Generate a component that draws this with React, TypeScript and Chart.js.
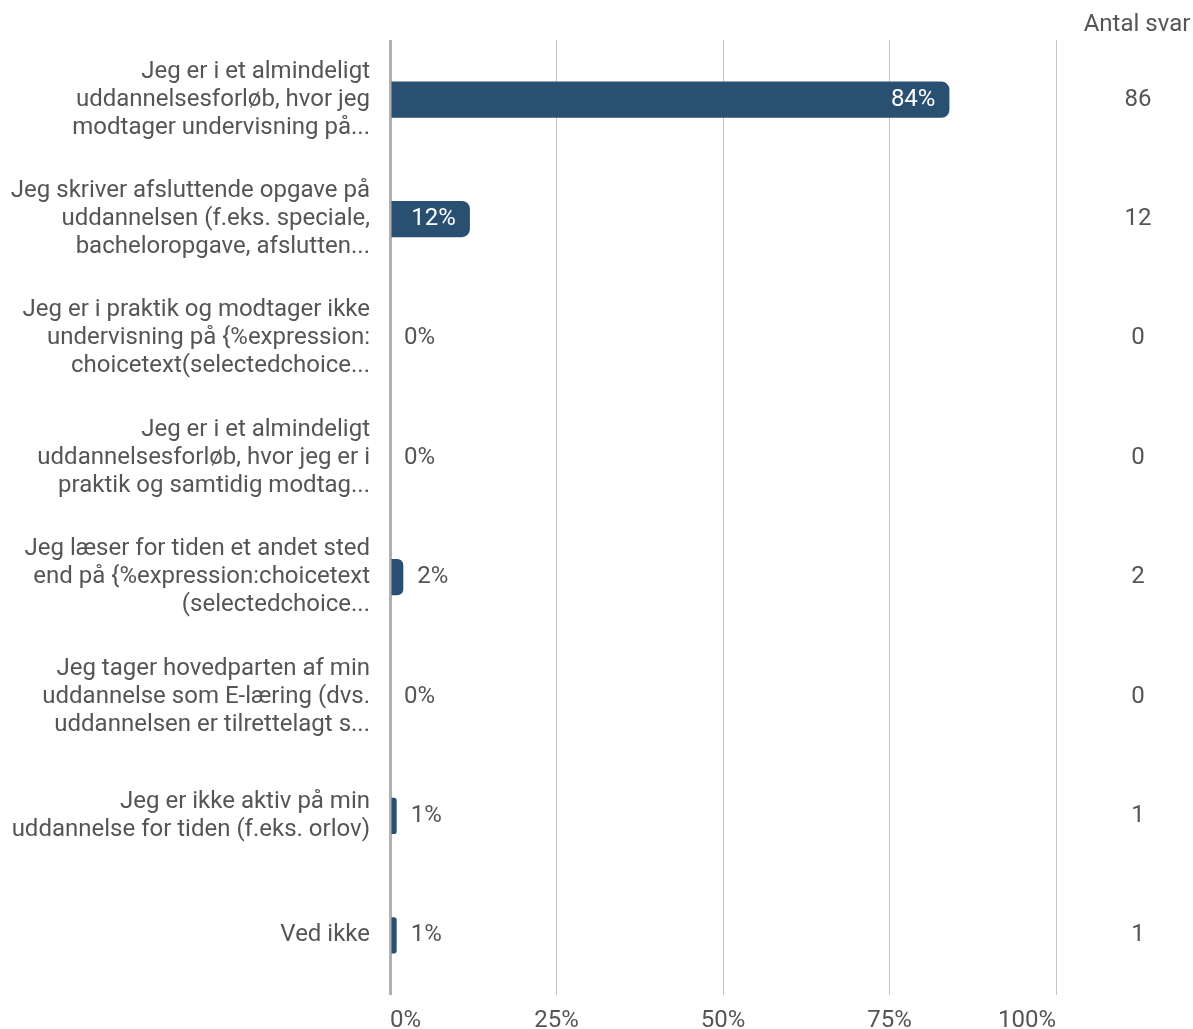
import React, { useEffect, useRef } from "react";
import { Chart, registerables } from "chart.js";

Chart.register(...registerables);

const categories: string[][] = [
  ["Jeg er i et almindeligt", "uddannelsesforløb, hvor jeg", "modtager undervisning på..."],
  ["Jeg skriver afsluttende opgave på", "uddannelsen (f.eks. speciale,", "bacheloropgave, afslutten..."],
  ["Jeg er i praktik og modtager ikke", "undervisning på {%expression:", "choicetext(selectedchoice..."],
  ["Jeg er i et almindeligt", "uddannelsesforløb, hvor jeg er i", "praktik og samtidig modtag..."],
  ["Jeg læser for tiden et andet sted", "end på {%expression:choicetext", "(selectedchoice..."],
  ["Jeg tager hovedparten af min", "uddannelse som E-læring (dvs.", "uddannelsen er tilrettelagt s..."],
  ["Jeg er ikke aktiv på min", "uddannelse for tiden (f.eks. orlov)"],
  ["Ved ikke"],
];
const percentValues: number[] = [84, 12, 0, 0, 2, 0, 1, 1];
const countValues: number[] = [86, 12, 0, 0, 2, 0, 1, 1];
const xTickValues: number[] = [0, 25, 50, 75, 100];
const countHeader = "Antal svar";

const FONT = "Roboto, 'Noto Sans', sans-serif";
const TEXT = "#555555";
const BAR = "#2a5071";

const labelPlugin = {
  id: "valueLabels",
  afterDatasetsDraw(chart: any) {
    const ctx = chart.ctx;
    const meta = chart.getDatasetMeta(0);
    const xs = chart.scales.x;
    ctx.save();
    ctx.font = `24px ${FONT}`;
    ctx.textBaseline = "middle";
    meta.data.forEach((el: any, i: number) => {
      const v = percentValues[i];
      const txt = v + "%";
      const w = ctx.measureText(txt).width;
      const barW = el.x - xs.getPixelForValue(0);
      if (barW > w + 28) {
        ctx.fillStyle = "#ffffff";
        ctx.textAlign = "right";
        ctx.fillText(txt, el.x - 14, el.y);
      } else {
        ctx.fillStyle = TEXT;
        ctx.textAlign = "left";
        ctx.fillText(txt, el.x + 14, el.y);
      }
    });
    const ys = chart.scales.y;
    const cx = 1138;
    ctx.fillStyle = TEXT;
    ctx.textAlign = "center";
    countValues.forEach((c, i) => {
      ctx.fillText(String(c), cx, ys.getPixelForValue(i));
    });
    ctx.fillText(countHeader, 1137, 25);
    ctx.restore();
  },
};

export default function App() {
  const ref = useRef<HTMLCanvasElement | null>(null);
  useEffect(() => {
    document.body.style.margin = "0";
    const chart = new Chart(ref.current as HTMLCanvasElement, {
      type: "bar",
      data: {
        labels: categories,
        datasets: [
          {
            data: percentValues,
            backgroundColor: BAR,
            borderRadius: 8,
            borderSkipped: "start",
            barPercentage: 0.6,
            categoryPercentage: 0.505,
          },
        ],
      },
      options: {
        indexAxis: "y",
        animation: false,
        responsive: false,
        maintainAspectRatio: false,
        layout: { padding: { top: 40, right: 137, left: 0, bottom: 0 } },
        plugins: { legend: { display: false }, tooltip: { enabled: false } },
        scales: {
          x: {
            min: 0,
            max: 100,
            afterBuildTicks: (s: any) => {
              s.ticks = xTickValues.map((v) => ({ value: v }));
            },
            afterFit: (s: any) => {
              s.height = 34;
              s.paddingLeft = 0;
              s.paddingRight = 0;
            },
            ticks: {
              callback: (v: any) => v + "%",
              color: TEXT,
              font: { family: FONT, size: 24 },
              padding: 12,
              align: "inner",
              maxRotation: 0,
            },
            grid: {
              drawTicks: false,
              color: (c: any) => (c.tick && c.tick.value === 0 ? "#b0b0b0" : "#c4c4c4"),
              lineWidth: (c: any) => (c.tick && c.tick.value === 0 ? 3 : 1),
            },
            border: { display: false },
          },
          y: {
            afterFit: (s: any) => {
              s.width = 390;
              s.paddingTop = 0;
              s.paddingBottom = 0;
            },
            ticks: {
              color: TEXT,
              font: { family: FONT, size: 24, lineHeight: 28 / 24 },
              padding: 20,
            },
            grid: { display: false, drawTicks: false },
            border: { display: false },
          },
        },
      },
      plugins: [labelPlugin],
    } as any);
    return () => chart.destroy();
  }, []);
  return (
    <div style={{ width: 1193, height: 1029 }}>
      <canvas ref={ref} width={1193} height={1029} style={{ display: "block" }} />
    </div>
  );
}
